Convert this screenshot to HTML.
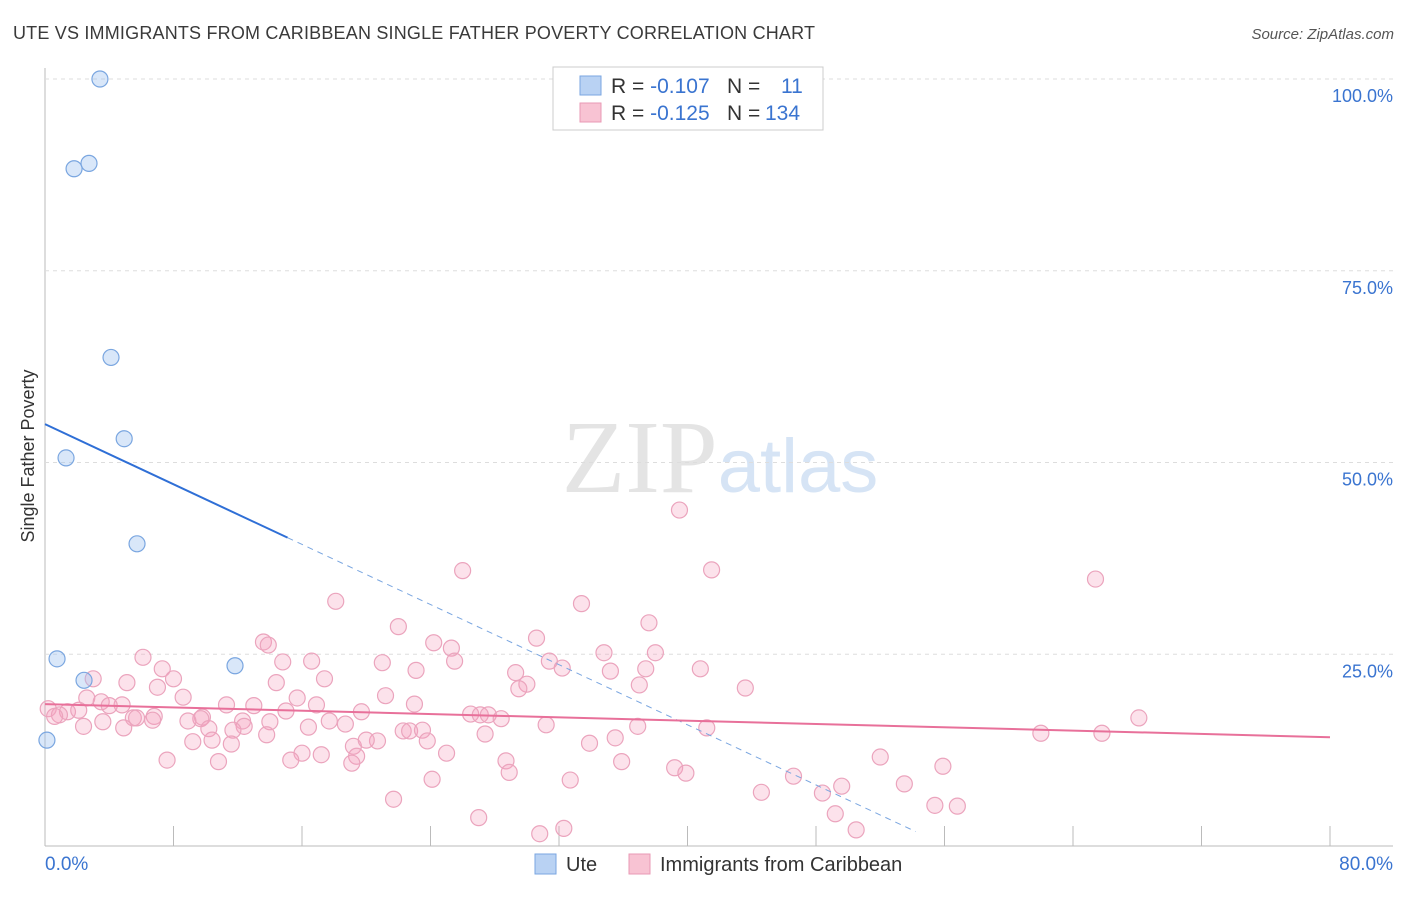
<!DOCTYPE html>
<html><head><meta charset="utf-8"><style>
body{margin:0;background:#fff;font-family:"Liberation Sans",sans-serif}
</style></head><body>
<svg id="chart" width="1406" height="892" xmlns="http://www.w3.org/2000/svg" font-family="Liberation Sans, sans-serif">
<text x="13" y="39" font-size="18" fill="#3a3a3a" textLength="802" lengthAdjust="spacing">UTE VS IMMIGRANTS FROM CARIBBEAN SINGLE FATHER POVERTY CORRELATION CHART</text>
<text x="1394" y="39" font-size="15" fill="#555" text-anchor="end" font-style="italic">Source: ZipAtlas.com</text>
<text x="720" y="492" font-size="104" text-anchor="middle" fill="#e4e4e4" font-family="Liberation Serif, serif">ZIP<tspan fill="#d6e4f5" font-family="Liberation Sans, sans-serif" font-size="76">atlas</tspan></text>
<text transform="translate(34,456) rotate(-90)" font-size="18" fill="#333" text-anchor="middle">Single Father Poverty</text>
<g id="grid"></g><g id="marks"></g>
<g>
<rect x="553" y="67" width="270" height="63" fill="#fff" stroke="#ccc"/>
<rect x="580" y="76" width="21" height="19" fill="#b9d2f3" stroke="#7aa6e0"/>
<rect x="580" y="103" width="21" height="19" fill="#f8c3d3" stroke="#e99ab5"/>
<text x="611" y="93" font-size="21" fill="#333">R = <tspan fill="#3a74d0">-0.107</tspan><tspan x="727">N = </tspan><tspan x="781" fill="#3a74d0">11</tspan></text>
<text x="611" y="120" font-size="21" fill="#333">R = <tspan fill="#3a74d0">-0.125</tspan><tspan x="727">N = </tspan><tspan x="765" fill="#3a74d0">134</tspan></text>
</g>
<g>
<rect x="535" y="854" width="21" height="20" fill="#b9d2f3" stroke="#7aa6e0"/>
<text x="566" y="871" font-size="20" fill="#333">Ute</text>
<rect x="629" y="854" width="21" height="20" fill="#f8c3d3" stroke="#e99ab5"/>
<text x="660" y="871" font-size="20" fill="#333">Immigrants from Caribbean</text>
</g>
</svg>
<script>
const yTicks=[25,50,75,100];
const yTickLabels=["25.0%","50.0%","75.0%","100.0%"];
const xTicks=[0,8,16,24,32,40,48,56,64,72,80];
const uteX=[3.42,1.81,2.74,4.11,4.93,1.31,5.73,0.75,2.43,11.83,0.12];
const uteY=[100,88.3,89.0,63.7,53.1,50.6,39.4,24.4,21.6,23.5,13.8];
const carX=[39.5,26.0,41.5,65.4,18.1,33.4,37.6,22.0,30.6,13.6,13.9,24.2,25.3,34.8,38.0,6.1,14.8,16.6,25.5,21.0,31.4,7.3,23.1,32.2,35.2,37.4,40.8,29.3,8.0,3.0,5.1,14.4,17.4,30.0,7.0,29.5,37.0,43.6,21.2,15.7,8.6,2.6,3.5,4.8,4.0,11.3,13.0,16.9,23.0,0.2,1.4,2.1,0.9,0.6,5.5,6.8,9.8,15.0,19.7,26.5,27.1,27.6,28.4,9.7,8.9,12.3,14.0,12.4,17.7,18.7,6.7,5.7,3.6,2.4,4.9,31.2,36.9,41.2,62.0,65.8,68.1,10.2,11.7,16.4,22.3,22.7,23.5,27.4,10.4,13.8,9.2,11.6,23.8,20.7,19.2,20.0,33.9,35.5,16.0,25.0,17.2,19.4,7.6,10.8,15.3,19.1,28.7,35.9,52.0,55.9,39.2,39.9,28.9,46.6,24.1,32.7,49.6,53.5,44.6,48.4,21.7,55.4,56.8,49.2,27.0,32.3,30.8,50.5];
const carY=[43.8,35.9,36.0,34.8,31.9,31.6,29.1,28.6,27.1,26.6,26.2,26.5,25.8,25.2,25.2,24.6,24.0,24.1,24.1,23.9,24.1,23.1,22.9,23.2,22.8,23.1,23.1,22.6,21.8,21.8,21.3,21.3,21.8,21.1,20.7,20.5,21.0,20.6,19.6,19.3,19.4,19.3,18.8,18.4,18.3,18.4,18.3,18.4,18.5,17.9,17.5,17.7,17.1,16.9,16.7,16.9,16.8,17.6,17.5,17.2,17.1,17.1,16.6,16.6,16.3,16.3,16.2,15.6,16.3,15.9,16.4,16.7,16.2,15.6,15.4,15.8,15.6,15.4,14.7,14.7,16.7,15.3,15.1,15.5,15.0,15.0,15.1,14.6,13.8,14.5,13.6,13.3,13.7,13.7,13.0,13.8,13.4,14.1,12.1,12.1,11.9,11.7,11.2,11.0,11.2,10.8,11.1,11.0,11.6,10.4,10.2,9.5,9.6,9.1,8.7,8.6,7.8,8.1,7.0,6.9,6.1,5.3,5.2,4.2,3.7,2.3,1.6,2.1];
const uteTrend=[55.0,-0.98];
const uteSolidEnd=15.1, uteDashEnd=54.2;
const carTrend=[18.5,-0.054];
const X=v=>45+v/80*1285, Y=v=>846-v/100*767;
const NS="http://www.w3.org/2000/svg";
function mk(t,a,p){const e=document.createElementNS(NS,t);for(const k in a)e.setAttribute(k,a[k]);p.appendChild(e);return e;}
const g=document.getElementById('grid'),m=document.getElementById('marks');
let ax=mk('line',{x1:45,y1:68,x2:45,y2:846,stroke:'#bbb'},g);


let bx=mk('line',{x1:45,y1:846,x2:1393,y2:846,stroke:'#bbb'},g);


yTicks.forEach((v,i)=>{
 const l=mk('line',{x1:45,x2:1393,y1:Y(v),y2:Y(v),stroke:'#ddd','stroke-dasharray':'4,4'},g);
 
 
 const t=mk('text',{x:1393,y:Y(v)+23,'font-size':18,fill:'#3a74d0','text-anchor':'end'},g);
 t.textContent=yTickLabels[i];
 
 
});
xTicks.forEach(v=>{
 const l=mk('line',{x1:X(v),x2:X(v),y1:826,y2:846,stroke:'#bbb'},g);
 
 
});
[["0.0%",45,'start'],["80.0%",1393,'end']].forEach(a=>{
 const t=mk('text',{x:a[1],y:870,'font-size':19,fill:'#3a74d0','text-anchor':a[2]},g);
 t.textContent=a[0];
 
 
});
carX.forEach((x,i)=>{
 const c=mk('circle',{cx:X(x),cy:Y(carY[i]),r:8,fill:'rgba(245,160,190,0.3)',stroke:'#eba4bd','stroke-width':1.2},m);
 
 
});
uteX.forEach((x,i)=>{
 const c=mk('circle',{cx:X(x),cy:Y(uteY[i]),r:8,fill:'rgba(160,195,240,0.4)',stroke:'#7aa6e0','stroke-width':1.2},m);
 
 
});
const ty=(t,x)=>t[0]+t[1]*x;
let l1=mk('line',{x1:X(0),y1:Y(ty(uteTrend,0)),x2:X(uteSolidEnd),y2:Y(ty(uteTrend,uteSolidEnd)),stroke:'#2f6fd6','stroke-width':2},m);


let l2=mk('line',{x1:X(uteSolidEnd),y1:Y(ty(uteTrend,uteSolidEnd)),x2:X(uteDashEnd),y2:Y(ty(uteTrend,uteDashEnd)),stroke:'#7aa6e0','stroke-width':1,'stroke-dasharray':'6,5'},m);


let l3=mk('line',{x1:X(0),y1:Y(ty(carTrend,0)),x2:X(80),y2:Y(ty(carTrend,80)),stroke:'#e8709a','stroke-width':2},m);


</script>
</body></html>
